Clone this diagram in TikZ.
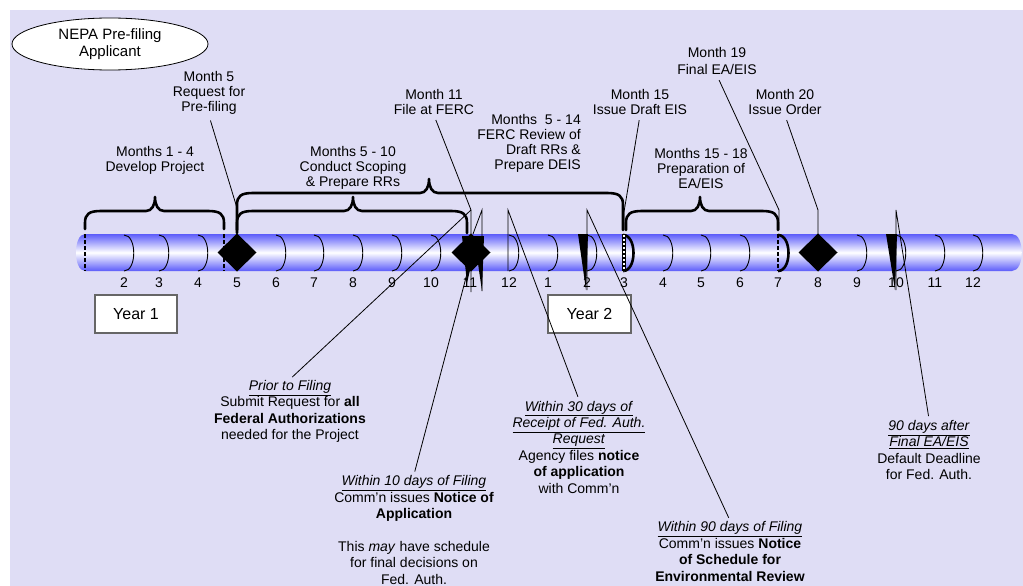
\documentclass[tikz,border=0pt]{standalone}
\usepackage{fontspec}
\setmainfont{Liberation Sans}
\usetikzlibrary{shapes.geometric}
\definecolor{bgc}{RGB}{223,221,245}
\definecolor{cyl}{RGB}{92,92,250}
\newcommand\pbrace[5]{%
 \draw[bracestyle] (#1,#5) -- (#1,{#4+12}) .. controls (#1,{#4+3}) and ({#1+4},#4) .. ({#1+16},#4) -- ({#3-9},#4) .. controls ({#3-3},#4) and (#3,{#4-6}) .. (#3,{#4-14}) .. controls (#3,{#4-6}) and ({#3+3},#4) .. ({#3+9},#4) -- ({#2-16},#4) .. controls ({#2-4},#4) and (#2,{#4+3}) .. (#2,{#4+12}) -- (#2,#5);}
\begin{document}
\begin{tikzpicture}[x=1pt,y=-1pt,
  lbl/.style={font=\fontsize{14}{15}\selectfont, align=center, inner sep=1pt},
  note/.style={font=\fontsize{14}{16.4}\selectfont, align=center, inner sep=1pt},
  num/.style={font=\fontsize{14}{15}\selectfont, inner sep=0pt},
  leader/.style={line width=0.8pt},
  bracestyle/.style={line width=2.6pt, line join=round, line cap=round},
  tickarc/.style={line width=0.9pt},
  thickarc/.style={line width=2.6pt},
  dashline/.style={line width=1.6pt, dash pattern=on 4pt off 2pt},
  yearbox/.style={draw=black!60, line width=1.2pt, fill=white, minimum width=82pt, minimum height=38pt, inner sep=0pt, font=\fontsize{16}{18}\selectfont}]
\useasboundingbox (0,0) rectangle (1023,586);
\fill[white] (0,0) rectangle (1023,586);
\fill[bgc] (10,10) rectangle (1023,586);

% cylinder
\shade[top color=cyl, bottom color=cyl, middle color=white]
  (85,234) -- (1012,234) .. controls (1025,234) and (1025,271) .. (1012,271)
  -- (85,271) .. controls (73,271) and (73,234) .. (85,234) -- cycle;

% month arcs
\foreach \x in {124,159,198,276,314,353,392,431,509,548,587,663,701,740,857,896,935,973}
  \draw[tickarc] (\x,235) .. controls (\x+13,235) and (\x+13,271) .. (\x,271);
\foreach \x in {623,778}
  \draw[thickarc] (\x,235) .. controls (\x+14,235) and (\x+14,271) .. (\x,271);

% dashed boundaries
\foreach \x in {85,224,778}
  \draw[dashline] (\x,234) -- (\x,271);
\draw[line width=3.4pt] (624,234) -- (624,271);
\draw[white, line width=1.2pt, dash pattern=on 2pt off 2pt] (624,235) -- (624,271);

% month numbers
\foreach \x/\t in {124/2,159/3,198/4,237/5,276/6,314/7,353/8,392/9,431/10,470/11,509/12,
  548/1,587/2,624/3,663/4,701/5,740/6,778/7,818/8,857/9,896/10,935/11,973/12}
  \node[num] at (\x,283) {\t};

% diamonds
\fill (237,233.5) -- (256.5,252.5) -- (237,271.5) -- (217.5,252.5) -- cycle;
\fill (818,233.5) -- (837.5,252.5) -- (818,271.5) -- (798.5,252.5) -- cycle;
\fill (471,233.5) -- (490.5,252.5) -- (471,271.5) -- (451.5,252.5) -- cycle;

% wedges
\fill (462,236) -- (478,236) -- (467,283) -- cycle;
\fill (474,236) -- (484,236) -- (482,291) -- cycle;
\fill (578,234) -- (588,234) -- (586,290) -- cycle;
\fill (886,234) -- (897,234) -- (895,290) -- cycle;

% braces
\pbrace{85}{224}{155}{211}{229}
\pbrace{237}{467}{353}{211}{233}
\pbrace{237}{623}{429}{193}{230}
\pbrace{626}{778}{700}{211}{230}

% year boxes
\node[yearbox] (y1) at (136,314) {Year 1};
\node[yearbox, minimum width=83pt] (y2) at (589.5,314) {Year 2};

% title
\node[draw, ellipse, fill=white, line width=0.8pt, minimum width=196pt, minimum height=52pt, inner sep=0pt,
  font=\fontsize{15}{17}\selectfont, align=center] (nepa) at (110,44) {NEPA Pre-filing\\Applicant};

% top labels
\node[lbl] (m14) at (155,160.5) {Months 1 - 4\\Develop Project};
\node[lbl] (m5) at (209,93) {Month 5\\Request for\\Pre-filing};
\node[lbl] (m510) at (353,168) {Months 5 - 10\\Conduct Scoping\\\& Prepare RRs};
\node[lbl] (m11) at (434,101.5) {Month 11\\File at FERC};
\node[lbl, align=right, anchor=east] (m514) at (582,143) {Months\ \ 5 - 14\\FERC Review of\\Draft RRs \&\\Prepare DEIS};
\node[lbl] (m15) at (640,101.5) {Month 15\\Issue Draft EIS};
\node[lbl, font=\fontsize{14}{16.5}\selectfont] (m19) at (717,61) {Month 19\\Final EA/EIS};
\node[lbl] (m20) at (785,101.5) {Month 20\\Issue Order};
\node[lbl] (m1518) at (701,168) {Months 15 - 18\\Preparation of\\EA/EIS};

% bottom notes
\node[note] (prior) at (290,411.5) {\underline{\textit{Prior to Filing}}\\Submit Request for \textbf{all}\\\textbf{Federal Authorizations}\\needed for the Project};
\node[note] (w10) at (414,530) {\underline{\textit{Within 10 days of Filing}}\\Comm’n issues \textbf{Notice of}\\\textbf{Application}\\[16.4pt]This \textit{may} have schedule\\for final decisions on\\Fed. Auth.};
\node[note] (w30) at (579,447) {\underline{\textit{Within 30 days of}}\\\underline{\textit{Receipt of Fed. Auth.}}\\\underline{\textit{Request}}\\Agency files \textbf{notice}\\\textbf{of application}\\with Comm’n};
\node[note] (w90) at (730,551.5) {\underline{\textit{Within 90 days of Filing}}\\Comm’n issues \textbf{Notice}\\\textbf{of Schedule for}\\\textbf{Environmental Review}};
\node[note] (d90) at (929,450) {\underline{\textit{90 days after}}\\\underline{\textit{Final EA/EIS}}\\Default Deadline\\for Fed. Auth.};

% leader end points
\coordinate (c5) at (237,208);
\coordinate (c11) at (471,210);
\coordinate (c11b) at (468,270);
\coordinate (c12) at (508,210);
\coordinate (c2) at (587,210);
\coordinate (c15) at (624,212);
\coordinate (c19) at (779,210);
\coordinate (c20) at (818,210);
\coordinate (c10) at (896,210);

% leaders
\draw[leader, shorten <=5pt] (m5.south) -- (c5);
\draw[leader, shorten <=5pt] (m11.south) -- (c11) -- (471,292);
\draw[leader] (473,234) -- (482,210) -- (482,291);
\draw[leader, shorten <=3pt] (prior.north) -- (c11);
\draw[leader, shorten <=3pt] (w10.north) -- (c11b);
\draw[leader, shorten <=3pt] (w30.north) -- (c12) -- (508,271);
\draw[leader, shorten <=3pt] (w90.north) -- (c2) -- (587,290);
\draw[leader, shorten <=5pt] (m15.south) -- (c15) -- (624,230);
\draw[leader, shorten <=5pt] (m19.south) -- (c19) -- (779,230);
\draw[leader, shorten <=5pt] (m20.south) -- (c20) -- (818,234);
\draw[leader, shorten <=3pt] (d90.north) -- (c10) -- (896,290);
\end{tikzpicture}
\end{document}
